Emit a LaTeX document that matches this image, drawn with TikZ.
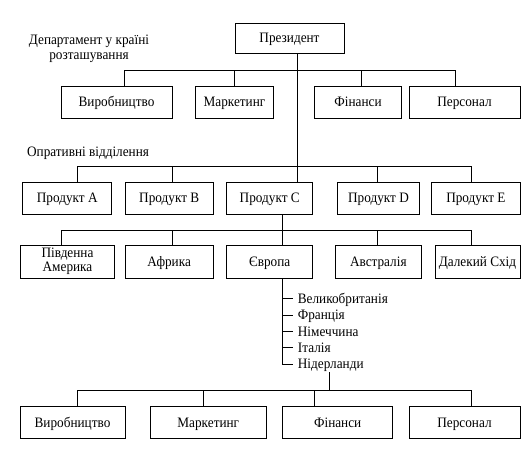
\documentclass[tikz,border=0pt]{standalone}
\usepackage{fontspec}
\setmainfont[FakeStretch=0.92]{Liberation Serif}
\begin{document}
\begin{tikzpicture}[x=1pt,y=-1pt,line width=0.8pt,
  fnt/.style={font=\fontsize{14.4}{15}\selectfont},
  one/.style={text height=11.5pt, text depth=2.5pt},
  box/.style={draw, inner sep=0pt, fnt, align=center},
  lbl/.style={inner sep=0pt, fnt},
  cty/.style={inner sep=1pt, anchor=west, fnt, one}]
\useasboundingbox (0,0) rectangle (530,473);
% President
\node[box, one, minimum width=109, minimum height=30] (pres) at (289.5,38) {Президент};
\node[lbl, align=center] (lab1) at (89,49) {Департамент у країні\\розташування};
\node[lbl, one, anchor=west] (lab2) at (26.7,152) {Опративні відділення};
% Row 1
\node[box, one, minimum width=111, minimum height=32] (d1) at (116.5,102) {Виробництво};
\node[box, one, minimum width=77.6, minimum height=32] (d2) at (234.5,102) {Маркетинг};
\node[box, one, minimum width=87.4, minimum height=32] (d3) at (358,102) {Фінанси};
\node[box, one, minimum width=111, minimum height=32] (d4) at (464.5,102) {Персонал};
\coordinate (bus1L) at (124.3,70);
\coordinate (bus1R) at (455.7,70);
\draw (bus1L) -- (bus1R);
\draw ([xshift=7.8pt]d1.north) -- ([xshift=7.8pt]d1.north |- bus1L);
\draw (d2.north) -- (d2.north |- bus1L);
\draw ([xshift=3.7pt]d3.north) -- ([xshift=3.7pt]d3.north |- bus1L);
\draw ([xshift=-8.8pt]d4.north) -- ([xshift=-8.8pt]d4.north |- bus1L);
% Products
\node[box, one, minimum width=89, minimum height=32] (pA) at (67.2,198.3) {Продукт A};
\node[box, one, minimum width=88.3, minimum height=32] (pB) at (169.2,198.3) {Продукт B};
\node[box, one, minimum width=86, minimum height=32] (pC) at (269.7,198.3) {Продукт C};
\node[box, one, minimum width=81.6, minimum height=32] (pD) at (378.5,198.3) {Продукт D};
\node[box, one, minimum width=88.3, minimum height=32] (pE) at (475.9,198.3) {Продукт E};
\coordinate (bus2L) at (77.7,166);
\coordinate (bus2R) at (471.7,166);
\draw (bus2L) -- (bus2R);
\draw ([xshift=8.2pt]pres.south) -- ([xshift=8.2pt]pres.south |- pC.north);
\draw ([xshift=10.5pt]pA.north) -- ([xshift=10.5pt]pA.north |- bus2L);
\draw ([xshift=3.1pt]pB.north) -- ([xshift=3.1pt]pB.north |- bus2L);
\draw ([xshift=-0.8pt]pD.north) -- ([xshift=-0.8pt]pD.north |- bus2L);
\draw ([xshift=-4.2pt]pE.north) -- ([xshift=-4.2pt]pE.north |- bus2L);
% Regions
\node[box, minimum width=93.6, minimum height=33, font=\fontsize{14.4}{14}\selectfont] (r1) at (67.5,261.5) {Південна\\Америка};
\node[box, one, minimum width=88.3, minimum height=33] (r2) at (169.2,261.5) {Африка};
\node[box, one, minimum width=86, minimum height=33] (r3) at (269.7,261.5) {Європа};
\node[box, one, minimum width=86.7, minimum height=33] (r4) at (378.3,261.5) {Австралія};
\node[box, one, minimum width=85, minimum height=33] (r5) at (477.5,261.5) {Далекий Схід};
\coordinate (bus3L) at (61,230);
\coordinate (bus3R) at (471.7,230);
\draw (bus3L) -- (bus3R);
\draw ([xshift=13pt]pC.south) -- ([xshift=13pt]r3.north);
\draw ([xshift=-6.5pt]r1.north) -- ([xshift=-6.5pt]r1.north |- bus3L);
\draw ([xshift=3.1pt]r2.north) -- ([xshift=3.1pt]r2.north |- bus3L);
\draw ([xshift=-0.6pt]r4.north) -- ([xshift=-0.6pt]r4.north |- bus3L);
\draw ([xshift=-5.8pt]r5.north) -- ([xshift=-5.8pt]r5.north |- bus3L);
% Countries
\node[cty] (c1) at (296.5,298.5) {Великобританія};
\node[cty] (c2) at (296.5,315) {Франція};
\node[cty] (c3) at (296.5,331.7) {Німеччина};
\node[cty] (c4) at (296.5,347.7) {Італія};
\node[cty] (c5) at (296.5,364) {Нідерланди};
\coordinate (vt) at (282.7,276);
\draw ([xshift=13pt]r3.south) |- ([xshift=-4pt]c5.west);
\foreach \c in {c1,c2,c3,c4} \draw (vt |- \c.west) -- ([xshift=-4pt]\c.west);
% Bottom
\node[box, one, minimum width=105, minimum height=31.6] (b1) at (72.5,422.5) {Виробництво};
\node[box, one, minimum width=116.7, minimum height=31.6] (b2) at (208.3,422.5) {Маркетинг};
\node[box, one, minimum width=110, minimum height=31.6] (b3) at (337.7,422.5) {Фінанси};
\node[box, one, minimum width=111, minimum height=31.6] (b4) at (464.5,422.5) {Персонал};
\coordinate (bus4L) at (77.7,390);
\coordinate (bus4R) at (471.7,390);
\draw (bus4L) -- (bus4R);
\draw ([xshift=33pt]c5.south west) -- ([xshift=33pt]c5.south west |- bus4L);
\draw ([xshift=5.2pt]b1.north) -- ([xshift=5.2pt]b1.north |- bus4L);
\draw ([xshift=-5pt]b2.north) -- ([xshift=-5pt]b2.north |- bus4L);
\draw ([xshift=-23.7pt]b3.north) -- ([xshift=-23.7pt]b3.north |- bus4L);
\draw ([xshift=7.2pt]b4.north) -- ([xshift=7.2pt]b4.north |- bus4L);
\end{tikzpicture}
\end{document}
